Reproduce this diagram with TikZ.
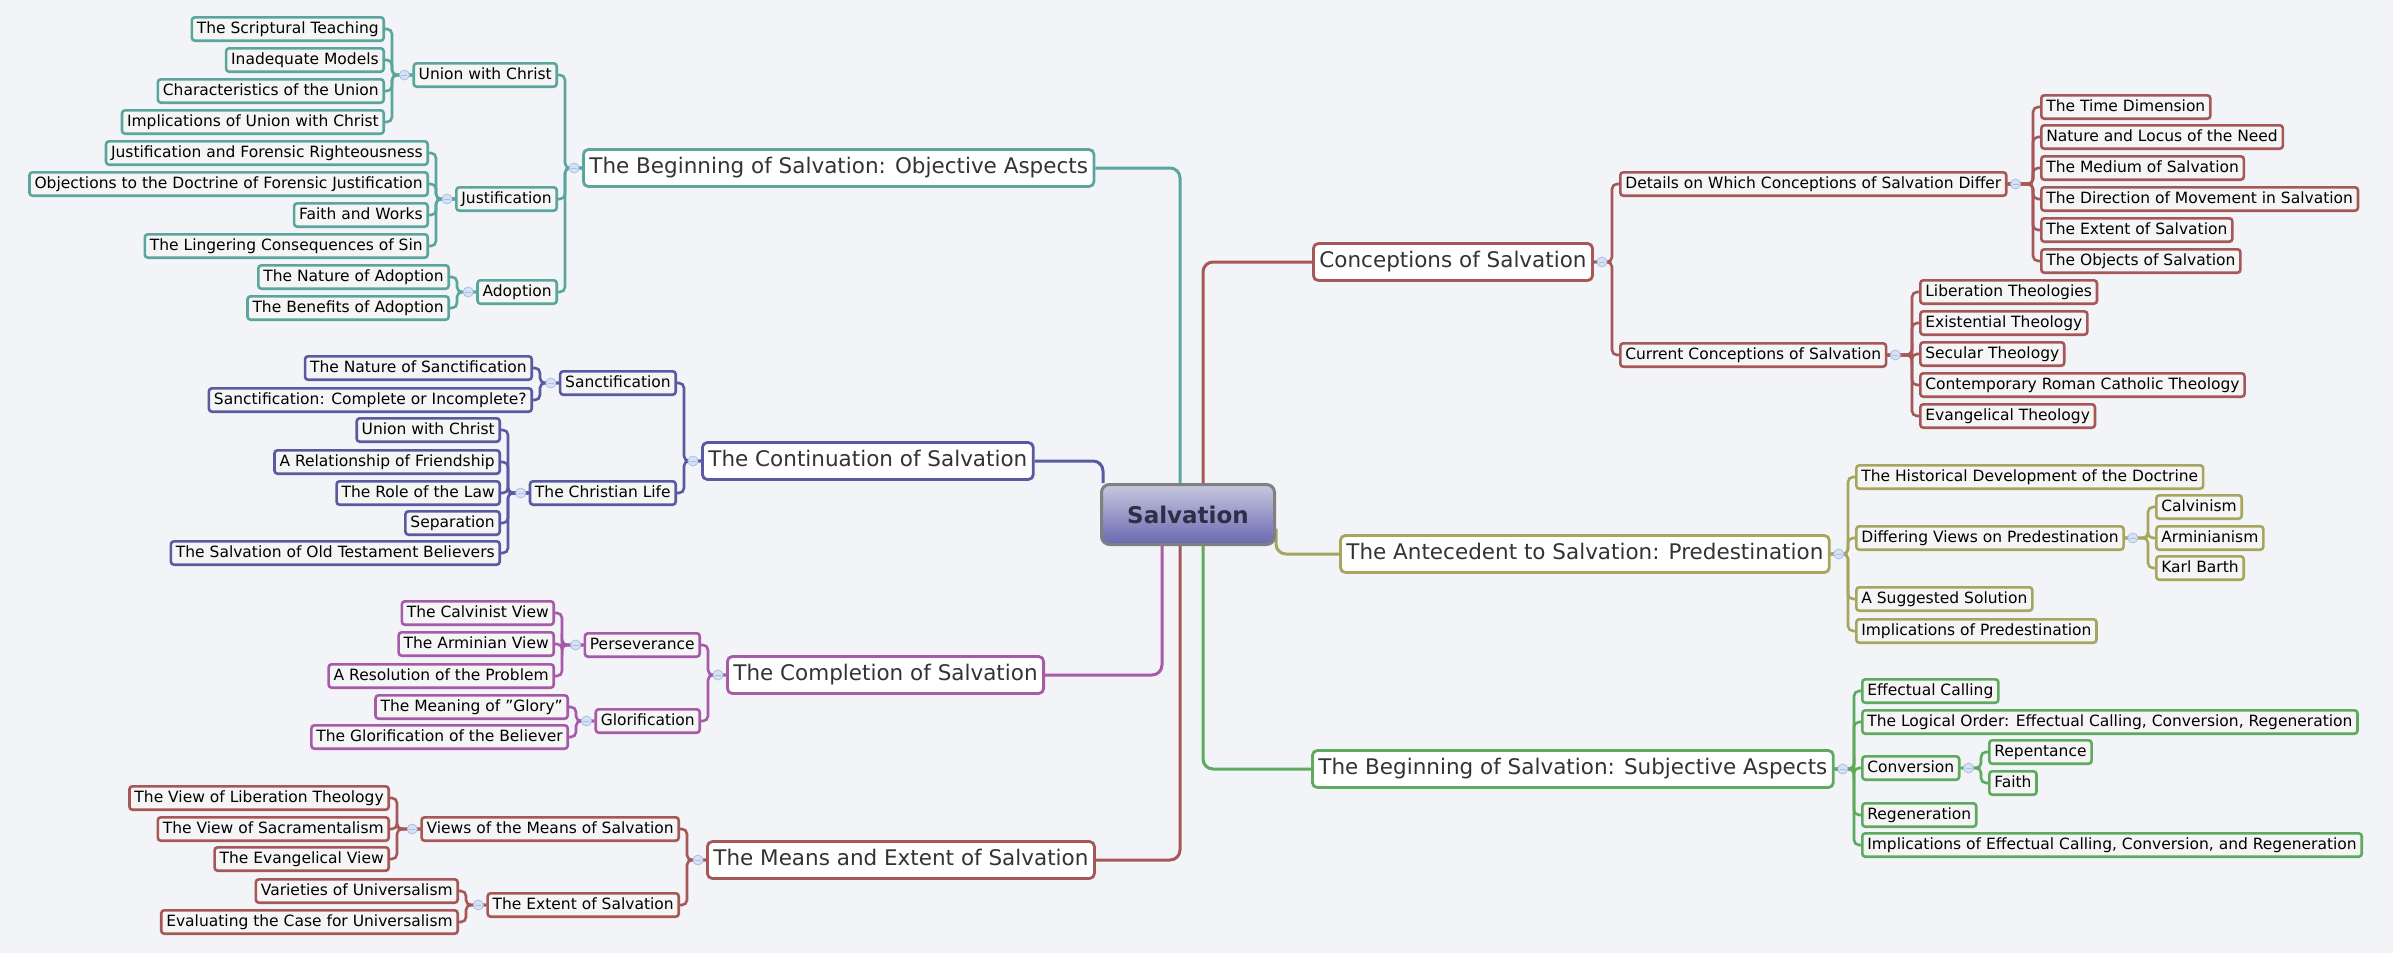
\documentclass[tikz,border=0pt]{standalone}
\usepackage{fontspec}
\setmainfont{DejaVu Sans}
\usetikzlibrary{backgrounds,calc}
\definecolor{bgc}{RGB}{242,244,248}
\definecolor{cteal}{RGB}{90,166,156}
\definecolor{cblue}{RGB}{90,90,162}
\definecolor{cpurp}{RGB}{166,90,168}
\definecolor{cred}{RGB}{166,88,88}
\definecolor{colive}{RGB}{166,166,96}
\definecolor{cgreen}{RGB}{94,170,94}
\definecolor{ctop}{RGB}{200,200,224}
\definecolor{cbot}{RGB}{104,104,176}
\definecolor{cborder}{RGB}{128,128,128}
\definecolor{ctext}{RGB}{51,51,51}
\definecolor{circf}{RGB}{214,226,244}
\definecolor{circd}{RGB}{170,192,230}
\tikzset{
  leaf/.style={draw=#1, line width=2.6pt, rounded corners=3pt, fill=white!96!black, text=black,
    font=\fontsize{15.5}{18}\selectfont, text height=11.5pt, text depth=3.5pt, inner xsep=5pt, inner ysep=4.2pt},
  mainb/.style={draw=#1, line width=2.8pt, rounded corners=5pt, fill=white, text=ctext,
    font=\fontsize{21.5}{25}\selectfont, text height=16pt, text depth=5pt, inner xsep=6pt, inner ysep=8pt},
  centr/.style={draw=cborder, line width=3pt, rounded corners=8pt, top color=ctop, bottom color=cbot,
    text=ctext!90!blue, font=\fontsize{23}{27}\selectfont\bfseries, minimum width=173pt, minimum height=60pt},
  conn/.style={draw=#1, line width=2.6pt, rounded corners=5pt},
  mconn/.style={draw=#1, line width=3pt, rounded corners=10pt},
  circ/.style={circle, fill=circf, draw=circd, line width=0.8pt, minimum size=10pt, inner sep=0pt},
}
\newcommand{\cL}[3]{\draw[conn=#1] (#2.west) -| ([xshift=7pt]#3.east) -- (#3.east);}
\newcommand{\cR}[3]{\draw[conn=#1] (#2.east) -| ([xshift=-7pt]#3.west) -- (#3.west);}
\newcommand{\ciL}[1]{\node[circ] at ([xshift=-8pt]#1.west) {}; \draw[circd,line width=0.8pt] ([xshift=-11pt]#1.west) -- ([xshift=-5pt]#1.west);}
\newcommand{\ciR}[1]{\node[circ] at ([xshift=8pt]#1.east) {}; \draw[circd,line width=0.8pt] ([xshift=5pt]#1.east) -- ([xshift=11pt]#1.east);}
\begin{document}
\begin{tikzpicture}[x=1pt,y=-1pt]
\useasboundingbox (0,0) rectangle (2393,953);
\node[centr] (S) at (1188,514.5) {Salvation};
% ---- Objective (teal)
\node[mainb=cteal, anchor=west] (obj) at (582,168) {The Beginning of Salvation: Objective Aspects};
\node[leaf=cteal, anchor=east] (uni) at (558,75) {Union with Christ};
\node[leaf=cteal, anchor=east] (jus) at (558,199) {Justification};
\node[leaf=cteal, anchor=east] (ado) at (558,292) {Adoption};
\node[leaf=cteal, anchor=east] (u1) at (385,29) {The Scriptural Teaching};
\node[leaf=cteal, anchor=east] (u2) at (385,60) {Inadequate Models};
\node[leaf=cteal, anchor=east] (u3) at (385,91) {Characteristics of the Union};
\node[leaf=cteal, anchor=east] (u4) at (385,122) {Implications of Union with Christ};
\node[leaf=cteal, anchor=east] (j1) at (429,153) {Justification and Forensic Righteousness};
\node[leaf=cteal, anchor=east] (j2) at (429,184) {Objections to the Doctrine of Forensic Justification};
\node[leaf=cteal, anchor=east] (j3) at (429,215) {Faith and Works};
\node[leaf=cteal, anchor=east] (j4) at (429,246) {The Lingering Consequences of Sin};
\node[leaf=cteal, anchor=east] (a1) at (450,277) {The Nature of Adoption};
\node[leaf=cteal, anchor=east] (a2) at (450,308) {The Benefits of Adoption};
% ---- Continuation (blue)
\node[mainb=cblue, anchor=west] (cont) at (701,461) {The Continuation of Salvation};
\node[leaf=cblue, anchor=east] (san) at (677,383) {Sanctification};
\node[leaf=cblue, anchor=east] (chl) at (677,493) {The Christian Life};
\node[leaf=cblue, anchor=east] (s1) at (533,368) {The Nature of Sanctification};
\node[leaf=cblue, anchor=east] (s2) at (533,400) {Sanctification: Complete or Incomplete?};
\node[leaf=cblue, anchor=east] (c1) at (501,430) {Union with Christ};
\node[leaf=cblue, anchor=east] (c2) at (501,462) {A Relationship of Friendship};
\node[leaf=cblue, anchor=east] (c3) at (501,493) {The Role of the Law};
\node[leaf=cblue, anchor=east] (c4) at (501,523) {Separation};
\node[leaf=cblue, anchor=east] (c5) at (501,553) {The Salvation of Old Testament Believers};
% ---- Completion (purple)
\node[mainb=cpurp, anchor=west] (comp) at (726,675) {The Completion of Salvation};
\node[leaf=cpurp, anchor=east] (per) at (701,645) {Perseverance};
\node[leaf=cpurp, anchor=east] (glo) at (701,721) {Glorification};
\node[leaf=cpurp, anchor=east] (p1) at (555,613) {The Calvinist View};
\node[leaf=cpurp, anchor=east] (p2) at (555,644) {The Arminian View};
\node[leaf=cpurp, anchor=east] (p3) at (555,676) {A Resolution of the Problem};
\node[leaf=cpurp, anchor=east] (g1) at (569,707) {The Meaning of "Glory"};
\node[leaf=cpurp, anchor=east] (g2) at (569,737) {The Glorification of the Believer};
% ---- Means (red)
\node[mainb=cred, anchor=west] (mea) at (706,860) {The Means and Extent of Salvation};
\node[leaf=cred, anchor=east] (vie) at (680,829) {Views of the Means of Salvation};
\node[leaf=cred, anchor=east] (ext) at (680,905) {The Extent of Salvation};
\node[leaf=cred, anchor=east] (v1) at (390,798) {The View of Liberation Theology};
\node[leaf=cred, anchor=east] (v2) at (390,829) {The View of Sacramentalism};
\node[leaf=cred, anchor=east] (v3) at (390,859) {The Evangelical View};
\node[leaf=cred, anchor=east] (e1) at (459,891) {Varieties of Universalism};
\node[leaf=cred, anchor=east] (e2) at (459,922) {Evaluating the Case for Universalism};
% ---- Conceptions (red)
\node[mainb=cred, anchor=west] (conc) at (1312,262) {Conceptions of Salvation};
\node[leaf=cred, anchor=west] (det) at (1619,184) {Details on Which Conceptions of Salvation Differ};
\node[leaf=cred, anchor=west] (cur) at (1619,355) {Current Conceptions of Salvation};
\node[leaf=cred, anchor=west] (d1) at (2040,107) {The Time Dimension};
\node[leaf=cred, anchor=west] (d2) at (2040,137) {Nature and Locus of the Need};
\node[leaf=cred, anchor=west] (d3) at (2040,168) {The Medium of Salvation};
\node[leaf=cred, anchor=west] (d4) at (2040,199) {The Direction of Movement in Salvation};
\node[leaf=cred, anchor=west] (d5) at (2040,230) {The Extent of Salvation};
\node[leaf=cred, anchor=west] (d6) at (2040,261) {The Objects of Salvation};
\node[leaf=cred, anchor=west] (k1) at (1919,292) {Liberation Theologies};
\node[leaf=cred, anchor=west] (k2) at (1919,323) {Existential Theology};
\node[leaf=cred, anchor=west] (k3) at (1919,354) {Secular Theology};
\node[leaf=cred, anchor=west] (k4) at (1919,385) {Contemporary Roman Catholic Theology};
\node[leaf=cred, anchor=west] (k5) at (1919,416) {Evangelical Theology};
% ---- Predestination (olive)
\node[mainb=colive, anchor=west] (pre) at (1339,554) {The Antecedent to Salvation: Predestination};
\node[leaf=colive, anchor=west] (r1) at (1855,477) {The Historical Development of the Doctrine};
\node[leaf=colive, anchor=west] (r2) at (1855,538) {Differing Views on Predestination};
\node[leaf=colive, anchor=west] (r3) at (1855,599) {A Suggested Solution};
\node[leaf=colive, anchor=west] (r4) at (1855,631) {Implications of Predestination};
\node[leaf=colive, anchor=west] (q1) at (2155,507) {Calvinism};
\node[leaf=colive, anchor=west] (q2) at (2155,538) {Arminianism};
\node[leaf=colive, anchor=west] (q3) at (2155,568) {Karl Barth};
% ---- Subjective (green)
\node[mainb=cgreen, anchor=west] (sub) at (1311,769) {The Beginning of Salvation: Subjective Aspects};
\node[leaf=cgreen, anchor=west] (t1) at (1861,691) {Effectual Calling};
\node[leaf=cgreen, anchor=west] (t2) at (1861,722) {The Logical Order: Effectual Calling, Conversion, Regeneration};
\node[leaf=cgreen, anchor=west] (t3) at (1861,768) {Conversion};
\node[leaf=cgreen, anchor=west] (t4) at (1861,815) {Regeneration};
\node[leaf=cgreen, anchor=west] (t5) at (1861,845) {Implications of Effectual Calling, Conversion, and Regeneration};
\node[leaf=cgreen, anchor=west] (w1) at (1988,752) {Repentance};
\node[leaf=cgreen, anchor=west] (w2) at (1988,783) {Faith};
% circles
\ciL{obj}\ciL{uni}\ciL{jus}\ciL{ado}
\ciL{cont}\ciL{san}\ciL{chl}
\ciL{comp}\ciL{per}\ciL{glo}
\ciL{mea}\ciL{vie}\ciL{ext}
\ciR{conc}\ciR{det}\ciR{cur}
\ciR{pre}\ciR{r2}
\ciR{sub}\ciR{t3}
\begin{scope}[on background layer]
\fill[bgc] (0,0) rectangle (2393,953);
% center links
\draw[mconn=cteal] (obj.east) -| ([xshift=-8pt]S.north);
\draw[mconn=cblue] (cont.east) -| ([xshift=-85pt]S.north);
\draw[mconn=cred] (conc.west) -| ([xshift=15pt]S.north);
\draw[mconn=colive] ([yshift=-14pt]S.east) |- (pre.west);
\draw[mconn=cpurp] (comp.east) -| ([xshift=-26pt]S.south);
\draw[mconn=cred] (mea.east) -| ([xshift=-8pt]S.south);
\draw[mconn=cgreen] (sub.west) -| ([xshift=15pt]S.south);
% teal
\foreach \c in {uni,jus,ado} {\cL{cteal}{obj}{\c}}
\foreach \c in {u1,u2,u3,u4} {\cL{cteal}{uni}{\c}}
\foreach \c in {j1,j2,j3,j4} {\cL{cteal}{jus}{\c}}
\foreach \c in {a1,a2} {\cL{cteal}{ado}{\c}}
% blue
\foreach \c in {san,chl} {\cL{cblue}{cont}{\c}}
\foreach \c in {s1,s2} {\cL{cblue}{san}{\c}}
\foreach \c in {c1,c2,c3,c4,c5} {\cL{cblue}{chl}{\c}}
% purple
\foreach \c in {per,glo} {\cL{cpurp}{comp}{\c}}
\foreach \c in {p1,p2,p3} {\cL{cpurp}{per}{\c}}
\foreach \c in {g1,g2} {\cL{cpurp}{glo}{\c}}
% red means
\foreach \c in {vie,ext} {\cL{cred}{mea}{\c}}
\foreach \c in {v1,v2,v3} {\cL{cred}{vie}{\c}}
\foreach \c in {e1,e2} {\cL{cred}{ext}{\c}}
% conceptions
\foreach \c in {det,cur} {\cR{cred}{conc}{\c}}
\foreach \c in {d1,d2,d3,d4,d5,d6} {\cR{cred}{det}{\c}}
\foreach \c in {k1,k2,k3,k4,k5} {\cR{cred}{cur}{\c}}
% predestination
\foreach \c in {r1,r2,r3,r4} {\cR{colive}{pre}{\c}}
\foreach \c in {q1,q2,q3} {\cR{colive}{r2}{\c}}
% subjective
\foreach \c in {t1,t2,t3,t4,t5} {\cR{cgreen}{sub}{\c}}
\foreach \c in {w1,w2} {\cR{cgreen}{t3}{\c}}
\end{scope}
\end{tikzpicture}
\end{document}
